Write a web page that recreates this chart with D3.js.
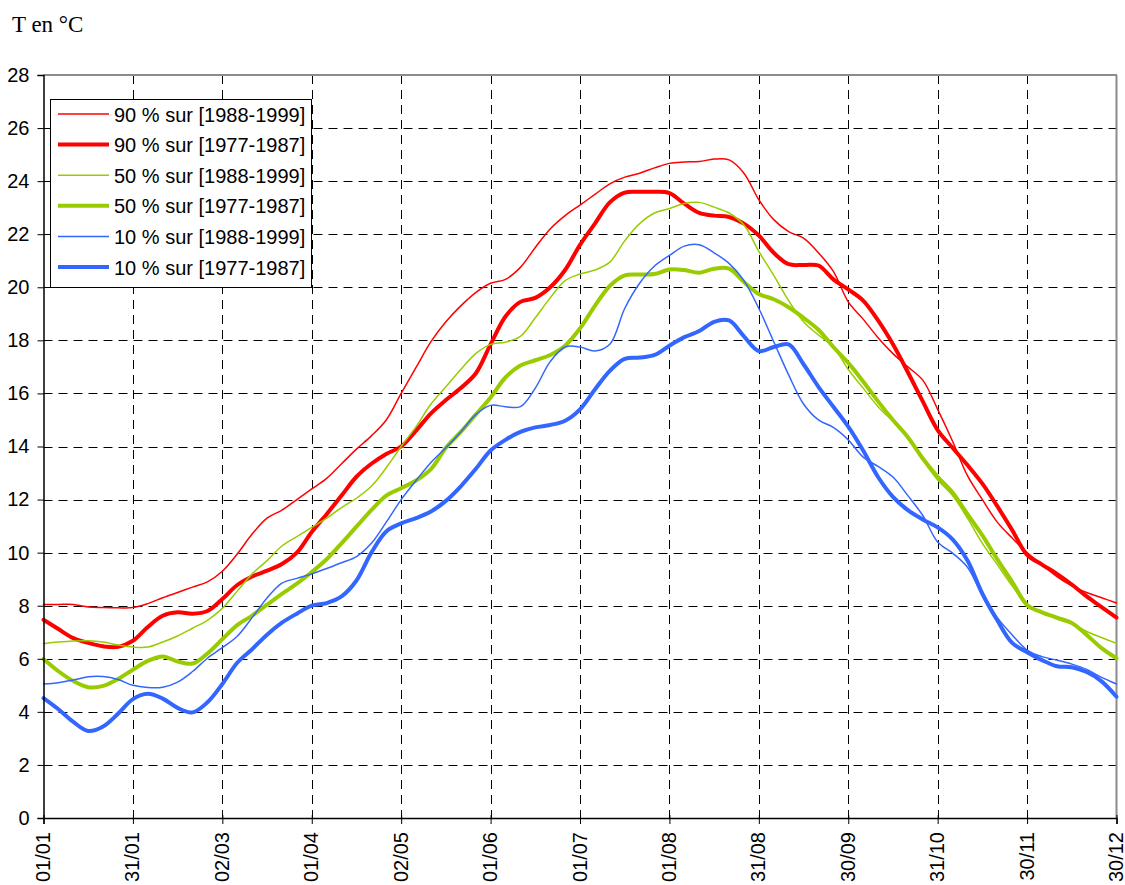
<!DOCTYPE html>
<html><head><meta charset="utf-8">
<script src="https://cdn.jsdelivr.net/npm/d3@7"></script>
<style>
html,body{margin:0;padding:0;background:#fff;}
svg{display:block;}
text{font-family:"Liberation Sans",Arial,sans-serif;}
</style></head>
<body>
<svg id="chart" width="1125" height="885"></svg>
<script>
// ---------- DATA ----------
const days = [0,5,10,15,20,25,30,35,40,45,50,55,60,65,70,75,80,85,90,95,100,105,110,115,120,125,130,135,140,145,150,155,160,165,170,175,180,185,190,195,200,205,210,215,220,225,230,235,240,245,250,255,260,265,270,275,280,285,290,295,300,305,310,315,320,325,330,335,340,345,350,355,360];

const tickDays = [0,30,60,90,120,150,180,210,240,270,300,330,360];
const tickLabels = ["01/01","31/01","02/03","01/04","02/05","01/06","01/07","01/08","31/08","30/09","31/10","30/11","30/12"];
const yTicks = [0,2,4,6,8,10,12,14,16,18,20,22,24,26,28];

const p90_1988 = [8.05,8.05,8.05,7.95,7.93,7.92,7.93,8.08,8.3,8.5,8.7,8.9,9.3,9.95,10.7,11.3,11.6,12.0,12.4,12.8,13.35,13.9,14.4,15.0,16.0,16.98,17.95,18.7,19.3,19.8,20.15,20.3,20.75,21.5,22.2,22.7,23.1,23.5,23.9,24.15,24.3,24.5,24.67,24.72,24.74,24.83,24.8,24.3,23.3,22.55,22.1,21.85,21.3,20.6,19.45,18.8,18.1,17.5,17.0,16.5,15.4,14.2,12.9,12.0,11.15,10.55,10.0,9.55,9.1,8.75,8.5,8.3,8.1];
const p90_1977 = [7.47,7.12,6.78,6.6,6.47,6.45,6.68,7.2,7.62,7.75,7.7,7.8,8.25,8.78,9.1,9.32,9.57,10.0,10.78,11.45,12.15,12.86,13.35,13.72,14.0,14.6,15.25,15.75,16.2,16.75,17.85,18.9,19.45,19.6,20.0,20.65,21.6,22.4,23.2,23.57,23.6,23.6,23.55,23.15,22.8,22.7,22.65,22.4,21.95,21.3,20.87,20.84,20.82,20.3,19.92,19.5,18.75,17.85,16.8,15.7,14.62,13.95,13.3,12.6,11.75,10.85,9.92,9.55,9.2,8.8,8.35,7.95,7.55];
const p50_1988 = [6.57,6.63,6.67,6.68,6.63,6.52,6.44,6.44,6.63,6.86,7.15,7.45,7.9,8.55,9.2,9.7,10.25,10.6,10.95,11.3,11.7,12.05,12.5,13.2,14.0,14.75,15.6,16.25,16.9,17.5,17.85,17.93,18.15,18.85,19.6,20.25,20.5,20.65,20.95,21.75,22.4,22.8,22.97,23.16,23.2,23.02,22.8,22.35,21.35,20.45,19.5,18.7,18.2,17.75,16.9,16.2,15.5,14.95,14.4,13.5,12.74,12.15,11.3,10.35,9.55,8.75,8.05,7.75,7.5,7.32,7.03,6.8,6.58];
const p50_1977 = [5.99,5.53,5.16,4.93,4.98,5.24,5.59,5.92,6.09,5.9,5.82,6.2,6.74,7.27,7.63,8.04,8.45,8.83,9.27,9.75,10.35,10.98,11.6,12.15,12.43,12.72,13.15,13.95,14.55,15.2,15.85,16.6,17.05,17.25,17.45,17.8,18.45,19.3,20.05,20.45,20.48,20.5,20.67,20.65,20.55,20.7,20.7,20.2,19.75,19.55,19.25,18.85,18.4,17.75,17.15,16.45,15.7,15.0,14.35,13.55,12.86,12.27,11.45,10.65,9.75,8.9,8.03,7.75,7.55,7.35,6.9,6.4,6.02];
const p10_1988 = [5.05,5.1,5.2,5.32,5.33,5.22,5.0,4.92,4.93,5.12,5.52,6.02,6.42,6.85,7.55,8.29,8.85,9.03,9.2,9.4,9.62,9.85,10.35,11.15,12.0,12.72,13.4,13.95,14.55,15.2,15.55,15.5,15.5,16.2,17.2,17.75,17.75,17.6,17.85,19.2,20.15,20.8,21.2,21.55,21.6,21.3,20.9,20.25,19.2,17.95,16.7,15.6,15.0,14.72,14.25,13.6,13.25,12.85,12.15,11.4,10.4,9.98,9.45,8.4,7.55,6.9,6.33,6.08,5.95,5.8,5.6,5.3,5.05];
const p10_1977 = [4.52,4.1,3.62,3.28,3.45,3.93,4.48,4.68,4.5,4.15,3.98,4.36,5.05,5.85,6.36,6.91,7.36,7.7,8.0,8.1,8.35,8.95,10.0,10.8,11.1,11.3,11.55,11.95,12.5,13.15,13.85,14.25,14.55,14.72,14.81,14.97,15.4,16.15,16.85,17.3,17.35,17.45,17.8,18.12,18.35,18.7,18.75,18.15,17.6,17.75,17.85,17.1,16.25,15.5,14.75,13.85,12.85,12.1,11.6,11.25,10.95,10.5,9.7,8.45,7.45,6.6,6.25,5.95,5.72,5.68,5.5,5.15,4.57];

const seriesNames = ["90 % sur [1988-1999]","90 % sur [1977-1987]","50 % sur [1988-1999]","50 % sur [1977-1987]","10 % sur [1988-1999]","10 % sur [1977-1987]"];
const seriesValues = [p90_1988,p90_1977,p50_1988,p50_1977,p10_1988,p10_1977];
const seriesColors = ["#ff0000","#ff0000","#99cc00","#99cc00","#3366ff","#3366ff"];
const seriesWidths = [1.5,4,1.5,4,1.5,4];

// ---------- LAYOUT ----------
const L = 43.5, R = 1116.5, T = 75, B = 818;
const svg = d3.select("#chart");
const x = d3.scaleLinear().domain([0,360]).range([L,R]);
const y = d3.scaleLinear().domain([0,28]).range([B,T]);

// title
svg.append("text").attr("x",12).attr("y",32)
  .style("font-family","'Liberation Serif','Times New Roman',serif")
  .style("font-size","23px").text("T en °C");

// grid
const g = svg.append("g");
g.selectAll("line.hg").data(yTicks.filter(v=>v>0 && v<28)).join("line")
  .attr("x1",L).attr("x2",R).attr("y1",d=>Math.round(y(d))+0.5).attr("y2",d=>Math.round(y(d))+0.5)
  .attr("stroke","#000").attr("stroke-width",1).attr("stroke-dasharray","9,6");
g.selectAll("line.vg").data(tickDays.filter(v=>v>0 && v<360)).join("line")
  .attr("x1",d=>Math.round(x(d))+0.5).attr("x2",d=>Math.round(x(d))+0.5).attr("y1",T).attr("y2",B)
  .attr("stroke","#000").attr("stroke-width",1).attr("stroke-dasharray","9,6");

// plot border top/right (gray)
svg.append("line").attr("x1",L).attr("x2",R+0.5).attr("y1",T).attr("y2",T).attr("stroke","#8c8c8c").attr("stroke-width",2);
svg.append("line").attr("x1",R).attr("x2",R).attr("y1",T).attr("y2",B).attr("stroke","#8c8c8c").attr("stroke-width",2);

// series
const line = d3.line().x((d,i)=>x(days[i])).y(d=>y(d)).curve(d3.curveCatmullRom.alpha(0.5));
const sg = svg.append("g");
seriesValues.forEach((vals,k)=>{
  sg.append("path").datum(vals).attr("d",line).attr("fill","none")
    .attr("stroke",seriesColors[k]).attr("stroke-width",seriesWidths[k])
    .attr("stroke-linejoin","round").attr("stroke-linecap","round");
});

// y axis
const yAxis = d3.axisLeft(y).tickValues(yTicks).tickSize(6).tickPadding(8).tickFormat(d3.format("d"));
const ya = svg.append("g").attr("transform",`translate(${L},0)`).call(yAxis);
ya.select(".domain").attr("stroke","#000").attr("stroke-width",1.5);
ya.selectAll(".tick line").attr("stroke","#000");
ya.selectAll(".tick text").style("font-size","20px").attr("fill","#000");

// x axis
const xAxis = d3.axisBottom(x).tickValues(tickDays).tickSize(6).tickFormat((d,i)=>tickLabels[i]);
const xa = svg.append("g").attr("transform",`translate(0,${B})`).call(xAxis);
xa.select(".domain").attr("stroke","#000").attr("stroke-width",1.5);
xa.selectAll(".tick line").attr("stroke","#000").attr("y1",-3);
xa.selectAll(".tick text").style("font-size","20px").attr("fill","#000")
  .attr("transform","rotate(-90)").attr("text-anchor","end")
  .attr("x",-14).attr("y",0).attr("dy","0.3em");

// legend
const lg = svg.append("g");
lg.append("rect").attr("x",50.5).attr("y",99.5).attr("width",261).attr("height",188)
  .attr("fill","#fff").attr("stroke","#000").attr("stroke-width",1);
seriesNames.forEach((name,k)=>{
  const yy = 114 + k*30.6;
  lg.append("line").attr("x1",58).attr("x2",109).attr("y1",yy).attr("y2",yy)
    .attr("stroke",seriesColors[k]).attr("stroke-width",seriesWidths[k]);
  lg.append("text").attr("x",114).attr("y",yy+7.5).style("font-size","20px").text(name);
});
</script>
</body></html>
